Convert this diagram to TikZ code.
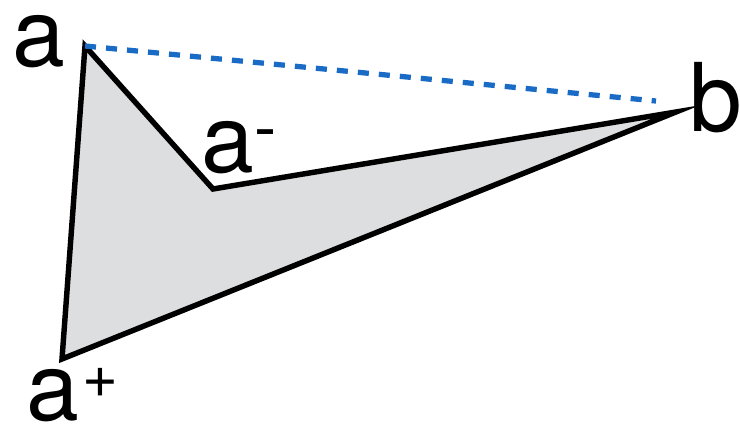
\documentclass[tikz,border=0pt]{standalone}
\usepackage{fontspec}
\setmainfont{TeX Gyre Heros}
\definecolor{shadegray}{HTML}{DDDEE0}
\definecolor{dashblue}{HTML}{1A6BC6}
\newcommand{\supminus}{\raisebox{12.8pt}{\fontsize{38}{40}\selectfont -}}
\newcommand{\supplus}{\hspace{2pt}\raisebox{12.7pt}{\fontsize{35}{38}\selectfont +}}
\begin{document}
\begin{tikzpicture}[x=0.02cm, y=-0.02cm, line join=miter, font=\fontsize{54}{60}\selectfont]
	\tikzset{
		outline/.style={draw=black, line width=3.1pt, fill=shadegray},
		hull/.style={draw=dashblue, line width=3pt, dash pattern=on 6.3pt off 5.7pt},
		vlabel/.style={inner sep=0pt, anchor=base west}
	}
	\useasboundingbox (0,0) rectangle (740,425);
	
	\coordinate (a) at (85,46);
	\coordinate (am) at (213,189);
	\coordinate (b) at (676,112);
	\coordinate (ap) at (62,359);
	\coordinate (bd) at (656,101);
	
	\draw[outline] (a) -- (am) -- (b) -- (ap) -- cycle;
	\draw[hull] (a) -- (bd);
	
	\node[vlabel] (la) at (12,67) {a};
	\node[vlabel] (lam) at (201,173) {a\supminus};
	\node[vlabel] (lb) at (689,132) {b};
	\node[vlabel] (lap) at (26,420) {a\supplus};
\end{tikzpicture}
\end{document}
